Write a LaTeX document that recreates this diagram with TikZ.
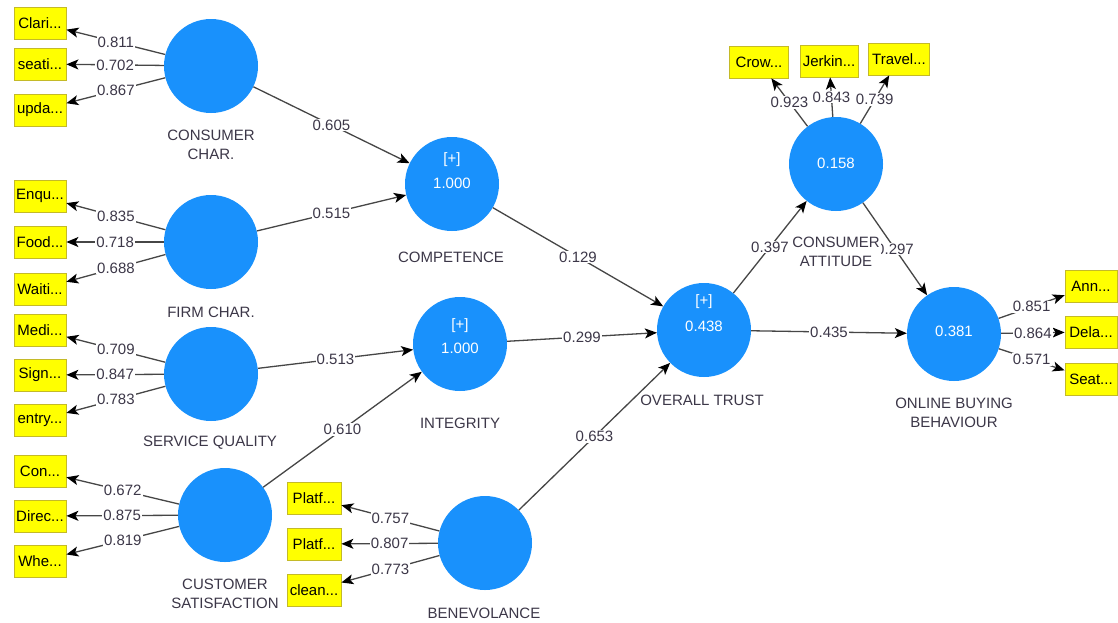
\documentclass[tikz,border=0pt]{standalone}
\usepackage{fontspec}
\setmainfont{Liberation Sans}
\usetikzlibrary{arrows.meta}
\definecolor{lvblue}{RGB}{25,145,252}
\definecolor{lnclr}{RGB}{70,70,70}
\definecolor{txtclr}{RGB}{60,55,72}
\definecolor{boxyel}{RGB}{255,255,0}
\definecolor{boxedge}{RGB}{196,186,40}
\begin{document}
\begin{tikzpicture}[x=1pt,y=-1pt,
  font=\fontsize{15}{18}\selectfont,
  lv/.style={circle,fill=lvblue,minimum size=94pt,inner sep=0pt},
  wtxt/.style={text=white,inner sep=0pt},
  ind/.style={rectangle,fill=boxyel,draw=boxedge,line width=0.8pt,minimum height=32pt,inner xsep=1pt,text=black},
  lbl/.style={text=txtclr,align=center,inner sep=1pt,font=\fontsize{15}{19}\selectfont},
  arr/.style={draw=lnclr,line width=1.3pt,-{Stealth[length=12pt,width=10pt,inset=3pt,color=black]}},
  coef/.style={fill=white,inner sep=1pt,text=txtclr,pos=0.5}]
\useasboundingbox[fill=white] (0,0) rectangle (1118,622);

% latent variables
\node[lv] (cc) at (211,66) {};
\node[lv] (fc) at (211,242) {};
\node[lv] (sq) at (211,374) {};
\node[lv] (cs) at (225,515) {};
\node[lv] (ben) at (485,543) {};
\node[lv] (comp) at (452,184) {};
\node[lv] (integ) at (460,344) {};
\node[lv] (ot) at (704,330) {};
\node[lv] (ca) at (836,164) {};
\node[lv] (obb) at (954,334) {};

% values inside circles
\node[wtxt] (compp) at ([yshift=24pt]comp.center) {[+]};
\node[wtxt] (compv) at ([yshift=1pt]comp.center) {1.000};
\node[wtxt] (integp) at ([yshift=18pt]integ.center) {[+]};
\node[wtxt] (integv) at ([yshift=-4pt]integ.center) {1.000};
\node[wtxt] (otp) at ([yshift=28pt]ot.center) {[+]};
\node[wtxt] (otv) at ([yshift=4pt]ot.center) {0.438};
\node[wtxt] (cav) at ([yshift=1pt]ca.center) {0.158};
\node[wtxt] (obbv) at ([yshift=3pt]obb.center) {0.381};

% indicators
\begin{scope}[every node/.append style={minimum width=52pt}]
\node[ind] (i1) at (40,23) {Clari...};
\node[ind] (i2) at (40,64) {seati...};
\node[ind] (i3) at (40,110) {upda...};
\node[ind] (i4) at (40,196) {Enqu...};
\node[ind] (i5) at (40,242) {Food...};
\node[ind] (i6) at (40,289) {Waiti...};
\node[ind] (i7) at (40,330) {Medi...};
\node[ind] (i8) at (40,375) {Sign...};
\node[ind] (i9) at (40,420) {entry...};
\node[ind] (i10) at (40,471) {Con...};
\node[ind] (i11) at (40,516) {Direc...};
\node[ind] (i12) at (40,561) {Whe...};
\node[ind] (r1) at (1091,286) {Ann...};
\node[ind] (r2) at (1091,332) {Dela...};
\node[ind] (r3) at (1091,379) {Seat...};
\end{scope}
\node[ind,minimum width=54pt] (b1) at (314,498) {Platf...};
\node[ind,minimum width=54pt] (b2) at (314,544) {Platf...};
\node[ind,minimum width=54pt] (b3) at (314,590) {clean...};
\node[ind,minimum width=59pt] (t1) at (759,62) {Crow...};
\node[ind,minimum width=58pt] (t2) at (829,61) {Jerkin...};
\node[ind,minimum width=61pt] (t3) at (899,59) {Travel...};

% outer loadings
\draw[arr] (cc) -- node[coef]{0.811} (i1);
\draw[arr] (cc) -- node[coef]{0.702} (i2);
\draw[arr] (cc) -- node[coef]{0.867} (i3);
\draw[arr] (fc) -- node[coef]{0.835} (i4);
\draw[arr] (fc) -- node[coef]{0.718} (i5);
\draw[arr] (fc) -- node[coef]{0.688} (i6);
\draw[arr] (sq) -- node[coef]{0.709} (i7);
\draw[arr] (sq) -- node[coef]{0.847} (i8);
\draw[arr] (sq) -- node[coef]{0.783} (i9);
\draw[arr] (cs) -- node[coef]{0.672} (i10);
\draw[arr] (cs) -- node[coef]{0.875} (i11);
\draw[arr] (cs) -- node[coef]{0.819} (i12);
\draw[arr] (ben) -- node[coef]{0.757} (b1);
\draw[arr] (ben) -- node[coef]{0.807} (b2);
\draw[arr] (ben) -- node[coef]{0.773} (b3);
\draw[arr] (ca) -- node[coef]{0.923} (t1);
\draw[arr] (ca) -- node[coef]{0.843} (t2);
\draw[arr] (ca) -- node[coef]{0.739} (t3);
\draw[arr] (obb) -- node[coef]{0.851} (r1);
\draw[arr] (obb) -- node[coef]{0.864} (r2);
\draw[arr] (obb) -- node[coef]{0.571} (r3);

% path coefficients
\draw[arr] (cc) -- node[coef]{0.605} (comp);
\draw[arr] (fc) -- node[coef]{0.515} (comp);
\draw[arr] (sq) -- node[coef]{0.513} (integ);
\draw[arr] (cs) -- node[coef]{0.610} (integ);
\draw[arr] (comp) -- node[coef]{0.129} (ot);
\draw[arr] (integ) -- node[coef]{0.299} (ot);
\draw[arr] (ben) -- node[coef]{0.653} (ot);
\draw[arr] (ot) -- node[coef]{0.397} (ca);
\draw[arr] (ot) -- node[coef]{0.435} (obb);
\draw[arr] (ca) -- node[coef]{0.297} (obb);

% construct labels
\node[lbl] (lcc) at (211,145) {CONSUMER\\CHAR.};
\node[lbl] (lfc) at (211,312) {FIRM CHAR.};
\node[lbl] (lsq) at (210,443) {SERVICE QUALITY};
\node[lbl] (lcs) at (225,594) {CUSTOMER\\SATISFACTION};
\node[lbl] (lben) at (484,613) {BENEVOLANCE};
\node[lbl] (lcomp) at (451,257) {COMPETENCE};
\node[lbl] (linteg) at (460,423) {INTEGRITY};
\node[lbl] (lot) at (702,400) {OVERALL TRUST};
\node[lbl,fill=white] (lca) at (836,252) {CONSUMER\\ATTITUDE};
\node[lbl] (lobb) at (954,413) {ONLINE BUYING\\BEHAVIOUR};
\end{tikzpicture}
\end{document}
